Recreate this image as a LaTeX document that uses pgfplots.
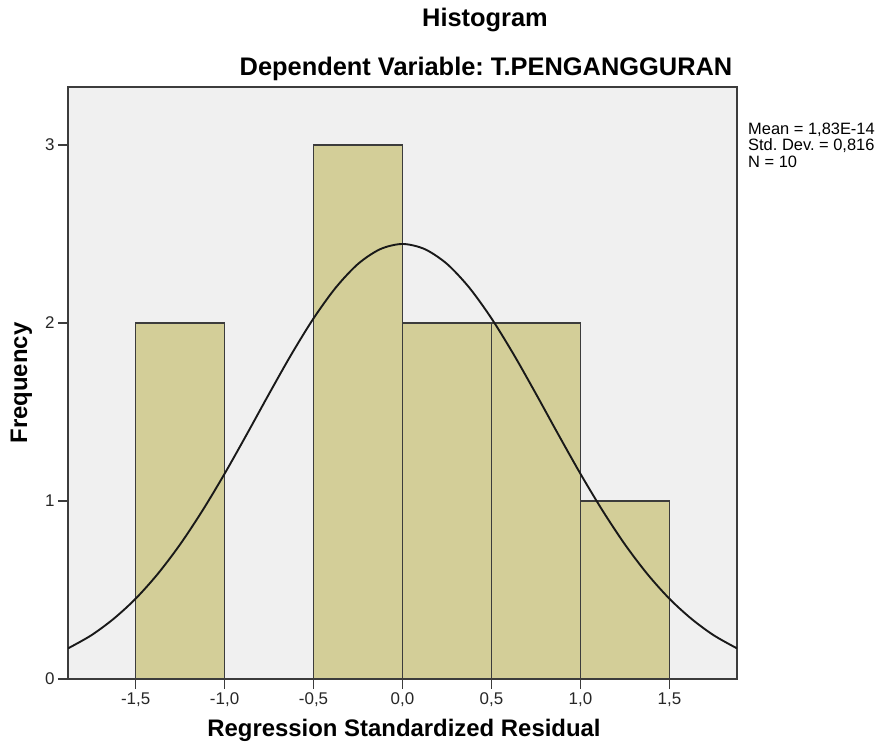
\documentclass[border=0pt]{standalone}
\usepackage{fontspec}
\setmainfont{Liberation Sans}
\usepackage{pgfplots}
\pgfplotsset{compat=1.18}
\frenchspacing

\definecolor{plotbg}{RGB}{240,240,240}
\definecolor{barfill}{RGB}{211,206,152}
\definecolor{edge}{RGB}{60,60,60}

\begin{document}
\begin{tikzpicture}[x=1bp,y=1bp]
\path[use as bounding box] (0,0) rectangle (887,753);
% axis box: 68..737 px wide, 87..679 px from top
\begin{axis}[
  at={(68bp,74bp)}, anchor=south west,
  scale only axis, width=669bp, height=592bp,
  xmin=-1.88, xmax=1.88, ymin=0, ymax=3.326,
  axis background/.style={fill=plotbg},
  axis line style={edge, line width=1.8pt},
  xtick={-1.5,-1,...,1.5}, ytick={0,1,2,3},
  xtick pos=bottom, ytick pos=left,
  tick align=outside, major tick length=10bp,
  tick style={edge, line width=1.6pt},
  /pgf/number format/assume math mode=true,
  xticklabel style={/pgf/number format/.cd, fixed, fixed zerofill, precision=1, use comma},
  ticklabel style={font=\fontsize{17}{19}\selectfont, text=black!85},
  clip=true,
]
\addplot[ybar interval, fill=barfill, draw=edge, line width=1.6pt] coordinates {
  (-1.5,2) (-1,0) (-0.5,3) (0,2) (0.5,2) (1,1) (1.5,1)
};
\addplot[black!90, line width=1.9pt, smooth, no marks] coordinates {
  (-1.88,0.172) (-1.75,0.245) (-1.625,0.337) (-1.5,0.451) (-1.375,0.591)
  (-1.25,0.756) (-1.125,0.945) (-1.0,1.153) (-0.875,1.375) (-0.75,1.602)
  (-0.625,1.823) (-0.5,2.026) (-0.375,2.199) (-0.25,2.332) (-0.125,2.415)
  (0,2.444)
  (0.125,2.415) (0.25,2.332) (0.375,2.199) (0.5,2.026) (0.625,1.823)
  (0.75,1.602) (0.875,1.375) (1.0,1.153) (1.125,0.945) (1.25,0.756)
  (1.375,0.591) (1.5,0.451) (1.625,0.337) (1.75,0.245) (1.88,0.172)
};
\end{axis}
\node[anchor=base, font=\bfseries\fontsize{25.5}{28}\selectfont] at (485,726) {Histogram};
\node[anchor=base, font=\bfseries\fontsize{25.5}{28}\selectfont] at (486,677) {Dependent Variable: T.PENGANGGURAN};
\node[anchor=base, font=\bfseries\fontsize{24}{28}\selectfont] at (404,16) {Regression Standardized Residual};
\node[anchor=base, rotate=90, font=\bfseries\fontsize{24}{28}\selectfont] at (27,370) {Frequency};
\node[anchor=base west, align=left, inner sep=0pt,
      font=\fontsize{16.5}{16.6}\selectfont] at (748,585.5) {Mean = 1,83E-14\\Std. Dev. = 0,816\\N = 10};
\end{tikzpicture}
\end{document}
